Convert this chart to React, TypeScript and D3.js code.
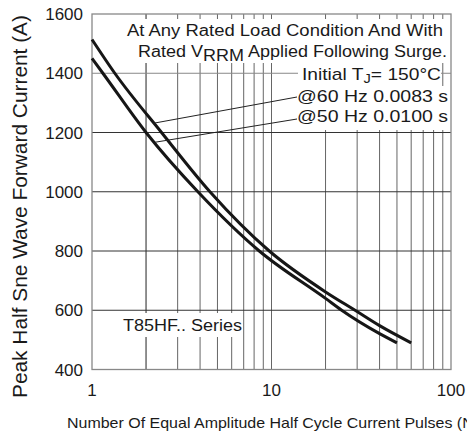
import React from 'react';
import * as d3 from 'd3';

// values
const pulses60 = [1, 1.34, 2.44, 4.54, 9.72, 20, 29.2, 40, 60];
const current60 = [1514, 1400, 1200, 1000, 800, 662, 600, 548, 490];
const pulses50 = [1, 1.15, 2, 3.89, 8.55, 20, 24.6, 40, 50];
const current50 = [1450, 1400, 1200, 1000, 800, 640, 600, 521, 490];

const yTicks = [400, 600, 800, 1000, 1200, 1400, 1600];
const xTicks = [1, 10, 100];
const xGrid = [2, 3, 4, 5, 6, 7, 8, 9, 10, 20, 30, 40, 50, 60, 70, 80, 90];

// leader anchors on the curves [pulses, current]
const leader60 = [2.19, 1231];
const leader50 = [2.24, 1167];

const FONT = '"Liberation Sans", Arial, sans-serif';

export default function App() {
  const W = 467, H = 433;
  const x = d3.scaleLog().domain([1, 100]).range([92, 451]);
  const y = d3.scaleLinear().domain([400, 1600]).range([369.5, 14]);

  const line = d3.line<[number, number]>()
    .x(d => x(d[0]))
    .y(d => y(d[1]))
    .curve(d3.curveMonotoneX);

  const s60 = pulses60.map((p, i) => [p, current60[i]] as [number, number]);
  const s50 = pulses50.map((p, i) => [p, current50[i]] as [number, number]);

  const [x0, x1] = x.range();
  const [y0, y1] = y.range();

  return (
    <svg width={W} height={H} style={{ position: 'absolute', left: 0, top: 0, background: '#fff' }} fontFamily={FONT}>
      <rect x={0} y={0} width={W} height={H} fill="#fff" />

      {/* grid */}
      {xGrid.map(v => (
        <line key={'gx' + v} x1={x(v)} x2={x(v)} y1={y1} y2={y0}
          stroke={v === 2 ? '#222' : '#666'} strokeWidth={1} />
      ))}
      {yTicks.slice(1, -1).map(v => (
        <line key={'gy' + v} x1={x0} x2={x1} y1={y(v)} y2={y(v)}
          stroke={v === 1400 ? '#888' : '#333'} strokeWidth={1} />
      ))}

      {/* text masks */}
      <rect x={125} y={19} width={324} height={44} fill="#fff" />
      <rect x={298} y={63} width={143} height={23} fill="#fff" />
      <rect x={296} y={86} width={153} height={44} fill="#fff" />
      <rect x={118} y={313} width={124} height={24} fill="#fff" />

      {/* frame */}
      <rect x={x0} y={y1} width={x1 - x0} height={y0 - y1} fill="none" stroke="#888" strokeWidth={1.3} />

      {/* curves */}
      <path d={line(s60) || ''} fill="none" stroke="#161616" strokeWidth={3} />
      <path d={line(s50) || ''} fill="none" stroke="#161616" strokeWidth={3} />

      {/* leaders */}
      <line x1={x(leader60[0])} y1={y(leader60[1])} x2={297} y2={97} stroke="#222" strokeWidth={1} />
      <line x1={x(leader50[0])} y1={y(leader50[1])} x2={297} y2={119} stroke="#222" strokeWidth={1} />

      {/* annotations */}
      <g fill="#1a1a1a" fontSize={16}>
        <text x={127} y={36} textLength={316} lengthAdjust="spacingAndGlyphs">At Any Rated Load Condition And With</text>
        <text x={138} y={57} textLength={309} lengthAdjust="spacingAndGlyphs">
          Rated V<tspan dy={3.5}>RRM</tspan><tspan dy={-3.5}> Applied Following Surge.</tspan>
        </text>
        <text x={302} y={79.5} fontSize={17} textLength={139} lengthAdjust="spacingAndGlyphs">
          Initial T<tspan dy={3} fontSize={13}>J</tspan><tspan dy={-3}>= 150°C</tspan>
        </text>
        <text x={297} y={101.5} textLength={151} lengthAdjust="spacingAndGlyphs">@60 Hz 0.0083 s</text>
        <text x={297} y={121.5} textLength={151} lengthAdjust="spacingAndGlyphs">@50 Hz 0.0100 s</text>
        <text x={123} y={331} textLength={119} lengthAdjust="spacingAndGlyphs">T85HF.. Series</text>
      </g>

      {/* y ticks */}
      <g fill="#1a1a1a" fontSize={17} textAnchor="end">
        {yTicks.map(v => (
          <text key={'yt' + v} x={83} y={y(v) + 6}>{v}</text>
        ))}
      </g>
      {/* x ticks */}
      <g fill="#1a1a1a" fontSize={17} textAnchor="middle">
        {xTicks.map(v => (
          <text key={'xt' + v} x={x(v)} y={396}>{v}</text>
        ))}
      </g>

      {/* axis titles */}
      <text transform="translate(27,206.5) rotate(-90)" textAnchor="middle" fontSize={20} fill="#1a1a1a"
        textLength={383} lengthAdjust="spacingAndGlyphs">Peak Half Sne Wave Forward Current (A)</text>
      <text x={67} y={428} fontSize={15} fill="#1a1a1a" textLength={412} lengthAdjust="spacingAndGlyphs">
        Number Of Equal Amplitude Half Cycle Current Pulses (N)
      </text>
    </svg>
  );
}
